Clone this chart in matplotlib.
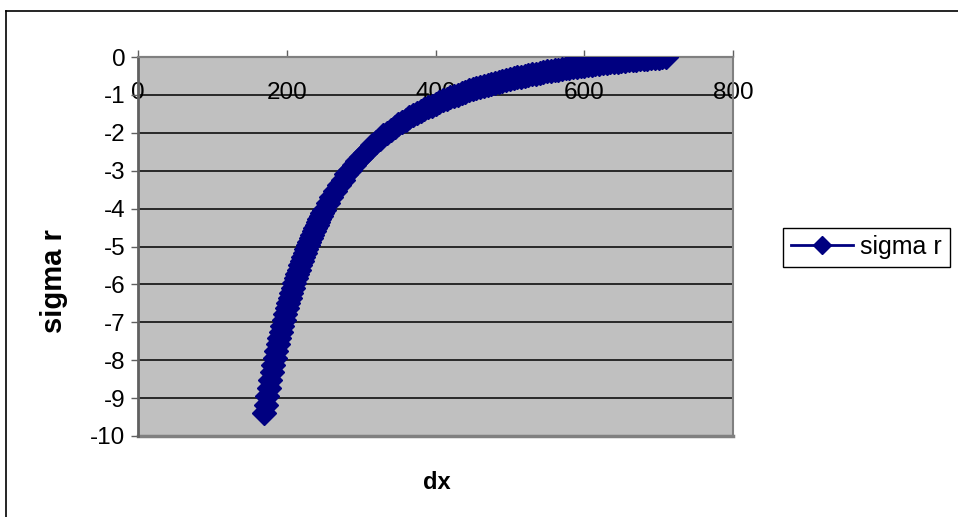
import matplotlib
matplotlib.use("Agg")
import matplotlib.pyplot as plt
from matplotlib.lines import Line2D

plt.rcParams["font.family"] = ["Liberation Sans", "DejaVu Sans"]

# radial position (dx) and radial stress (sigma r)
dx = [170, 172, 174, 176, 178, 180, 182, 184, 186, 188, 190, 192, 194, 196, 198,
      200, 202, 204, 206, 208, 210, 212, 214, 216, 218, 220, 222, 224, 226, 228,
      230, 232, 234, 236, 238, 240, 242, 244, 246, 248, 250,
      255, 260, 265, 270, 275, 280, 285, 290, 295, 300, 305, 310, 315, 320, 325,
      330, 335, 340, 345, 350, 355, 360, 365, 370, 375, 380, 385, 390, 395, 400,
      405, 410, 415, 420, 425, 430, 435, 440, 445, 450, 455, 460, 465, 470, 475,
      480, 485, 490, 495, 500, 505, 510, 515, 520, 525, 530, 535, 540, 545, 550,
      555, 560, 565, 570, 575, 580, 585, 590, 595, 600, 605, 610, 615, 620, 625,
      630, 635, 640, 645, 650, 655, 660, 665, 670, 675, 680, 685, 690, 695, 700,
      705, 710]
sigma_r = [-9.40, -9.17, -8.95, -8.73, -8.52, -8.32, -8.13, -7.94, -7.76, -7.58,
           -7.41, -7.25, -7.09, -6.93, -6.78, -6.63, -6.49, -6.35, -6.22, -6.09,
           -5.96, -5.84, -5.72, -5.61, -5.49, -5.38, -5.28, -5.17, -5.07, -4.97,
           -4.88, -4.78, -4.69, -4.60, -4.52, -4.43, -4.35, -4.27, -4.19, -4.11, -4.04,
           -3.86, -3.69, -3.53, -3.38, -3.24, -3.10, -2.98, -2.86, -2.74, -2.63,
           -2.53, -2.43, -2.33, -2.24, -2.16, -2.07, -2.00, -1.92, -1.85, -1.78,
           -1.72, -1.65, -1.59, -1.53, -1.48, -1.42, -1.37, -1.32, -1.28, -1.23,
           -1.19, -1.14, -1.10, -1.06, -1.02, -0.99, -0.95, -0.92, -0.88, -0.85,
           -0.82, -0.79, -0.76, -0.73, -0.71, -0.68, -0.65, -0.63, -0.60, -0.58,
           -0.56, -0.54, -0.52, -0.49, -0.47, -0.45, -0.44, -0.42, -0.40, -0.38,
           -0.36, -0.35, -0.33, -0.32, -0.30, -0.29, -0.27, -0.26, -0.24, -0.23,
           -0.22, -0.20, -0.19, -0.18, -0.17, -0.15, -0.14, -0.13, -0.12, -0.11,
           -0.10, -0.09, -0.08, -0.07, -0.06, -0.05, -0.04, -0.03, -0.02, -0.02,
           -0.01, 0.00]

x_ticks = [0, 200, 400, 600, 800]
y_ticks = [0, -1, -2, -3, -4, -5, -6, -7, -8, -9, -10]
series_name = "sigma r"

W, H = 958, 517
fig = plt.figure(figsize=(W / 100, H / 100), dpi=100)
fig.patch.set_facecolor("white")

# chart area border (left and top edges visible)
fig.add_artist(Line2D([5.5 / W, 5.5 / W], [0, 1 - 10.5 / H], color="black", lw=1.2))
fig.add_artist(Line2D([5.5 / W, 1], [1 - 10.5 / H, 1 - 10.5 / H], color="black", lw=1.2))

ax = fig.add_axes([138 / W, 1 - 436 / H, (733 - 138) / W, (436 - 57) / H])
ax.set_facecolor("#C0C0C0")

ax.plot(dx, sigma_r, color="#000080", lw=2, marker="D", markersize=12,
        markerfacecolor="#000080", markeredgecolor="#000080", mew=1,
        label=series_name, zorder=3)

ax.set_xlim(0, 800)
ax.set_ylim(-10, 0)
ax.set_xticks(x_ticks)
ax.set_yticks(y_ticks)
ax.set_yticklabels([str(v) for v in y_ticks])

ax.grid(axis="y", color="black", lw=1.1, zorder=1)
ax.grid(axis="x", visible=False)
ax.set_axisbelow(True)

# x axis crosses at y = 0, labels sit below it inside the plot
ax.spines["bottom"].set_position(("data", 0))
for name in ["bottom", "top", "right"]:
    ax.spines[name].set_color("#808080")
    ax.spines[name].set_linewidth(1.5)
ax.spines["left"].set_color("#606060")
ax.spines["left"].set_linewidth(2)
ax.axhline(-10, color="#808080", lw=2.5, clip_on=False, zorder=2)

ax.tick_params(axis="x", direction="in", length=5, width=1, color="#606060",
               labelsize=17.5, pad=18)
ax.tick_params(axis="y", direction="out", length=5, width=1, color="#606060",
               labelsize=17.5, pad=4)

ax.set_ylabel("sigma r", fontsize=21, fontweight="bold")
ax.set_xlabel("dx", fontsize=17, fontweight="bold")
ax.xaxis.set_label_coords(0.503, -0.092)
ax.yaxis.set_label_coords(-0.118, 0.41)

fig.legend(loc="center left", bbox_to_anchor=(783 / W, 1 - 247 / H),
           frameon=True, fancybox=False, edgecolor="black", framealpha=1,
           fontsize=18, handlelength=2.5, markerscale=0.8, borderaxespad=0,
           borderpad=0.3, handletextpad=0.3)

fig.savefig("out.png", dpi=100)
